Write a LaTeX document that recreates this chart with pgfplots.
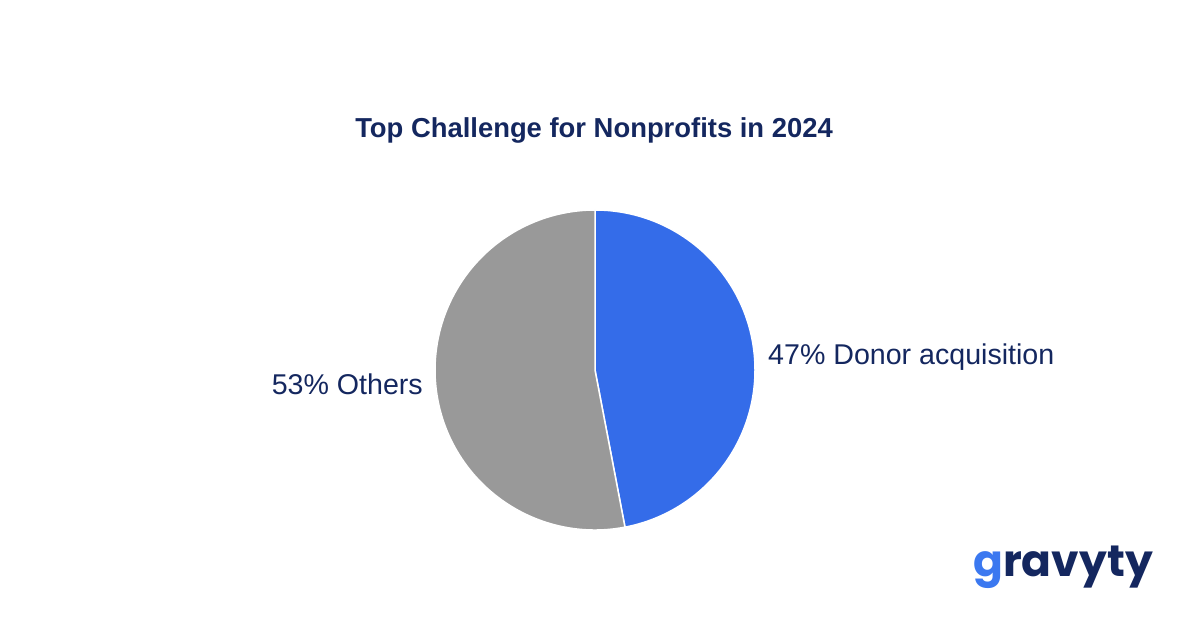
\documentclass[border=0pt]{standalone}
\usepackage{pgfplots}
\usepackage{pgfplotstable}
\pgfplotsset{compat=1.18}
\usepackage{fontspec}
\setmainfont{Liberation Sans}
\newfontfamily\logofont{Poppins}
\definecolor{navy}{HTML}{14275F}
\definecolor{pieblue}{HTML}{346CE9}
\definecolor{piegray}{HTML}{999999}
\definecolor{logoblue}{HTML}{3B78F0}
\pgfplotstableread{
label value
Donor 47
Others 53
}\piedata
\begin{document}
\begin{tikzpicture}
\pgfplotstablegetelem{0}{value}\of\piedata \let\va\pgfplotsretval
\pgfplotstablegetelem{1}{value}\of\piedata \let\vb\pgfplotsretval
\begin{axis}[
  at={(0,0)}, anchor=origin,
  width=1200pt, height=628pt, scale only axis,
  xmin=0, xmax=1200, ymin=0, ymax=628,
  hide axis, clip=false,
]
\fill[white] (axis cs:0,0) rectangle (axis cs:1200,628);
\pgfmathsetmacro{\enda}{90-\va*3.6}
\pgfmathsetmacro{\endb}{\enda-\vb*3.6}
\fill[pieblue, draw=white, line width=1.5pt, line join=round]
  (axis cs:595,258) -- ++(90:160pt) arc[start angle=90, end angle=\enda, radius=160pt] -- cycle;
\fill[piegray, draw=white, line width=1.5pt, line join=round]
  (axis cs:595,258) -- ++(\enda:160pt) arc[start angle=\enda, end angle=\endb, radius=160pt] -- cycle;
\node[anchor=base, text=navy, font=\fontsize{27.4}{32}\selectfont\bfseries] at (axis cs:594,490) {Top Challenge for Nonprofits in 2024};
\node[anchor=base west, inner sep=0pt, text=navy, font=\fontsize{28.6}{34}\selectfont] at (axis cs:768,263) {47\% Donor acquisition};
\node[anchor=base east, inner sep=0pt, text=navy, font=\fontsize{28.6}{34}\selectfont] at (axis cs:423,233) {53\% Others};
\node[anchor=base west, inner sep=0pt, font=\fontsize{44}{50}\logofont\bfseries] at (axis cs:973,51) {\textcolor{logoblue}{g}\textcolor{navy}{ravyty}};
\end{axis}
\end{tikzpicture}
\end{document}
